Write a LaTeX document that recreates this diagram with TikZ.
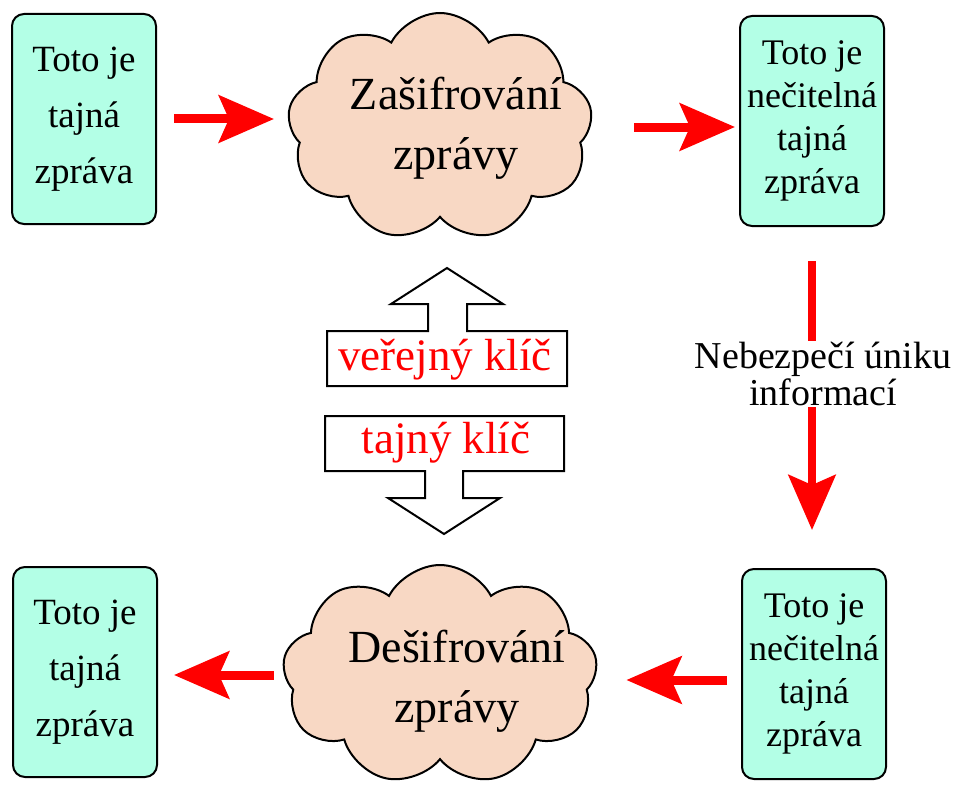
\documentclass[tikz,border=0pt]{standalone}
\usepackage{fontspec}
\setmainfont{Liberation Serif}
\usetikzlibrary{arrows.meta,shapes.symbols}
\definecolor{boxfill}{RGB}{179,255,230}
\definecolor{cloudfill}{RGB}{248,216,196}
\begin{document}
\begin{tikzpicture}[x=1pt,y=-1pt,
  msgbox/.style={draw=black,line width=2pt,fill=boxfill,rounded corners=12pt,
    minimum width=144pt,minimum height=210pt,align=center,inner sep=0pt},
  boxthree/.style={msgbox,font=\fontsize{37}{56}\selectfont},
  boxfour/.style={msgbox,font=\fontsize{36}{43}\selectfont},
  cloudsty/.style={cloud,cloud puffs=9,cloud puff arc=125,draw=black,line width=2pt,
    fill=cloudfill,inner sep=0pt},
  cloudtext/.style={align=center,font=\fontsize{46}{60}\selectfont},
  redarrow/.style={draw=red,line width=9pt,-{Stealth[length=55pt,width=47pt,inset=10pt]}},
  hollow/.style={draw=black,line width=2pt,fill=white,line join=miter},
  keytext/.style={text=red,font=\fontsize{45}{50}\selectfont,inner sep=0pt}]
\useasboundingbox[fill=white] (0,0) rectangle (963,789);

% message boxes
\node[boxthree] (tl) at (84,119) {Toto je\\tajná\\zpráva};
\node[boxfour]  (tr) at (812,121) {Toto je\\nečitelná\\tajná\\zpráva};
\node[boxthree] (bl) at (85,672) {Toto je\\tajná\\zpráva};
\node[boxfour]  (br) at (814,674) {Toto je\\nečitelná\\tajná\\zpráva};

% clouds
\node[cloudsty,minimum width=305pt,minimum height=228pt] (c1) at (440,127) {};
\node[cloudtext] (c1t) at (456,128) {Zašifrování\\zprávy};
\node[cloudsty,minimum width=315pt,minimum height=220pt] (c2) at (440,675) {};
\node[cloudtext] (c2t) at (457,681) {Dešifrování\\zprávy};

% red arrows
\draw[redarrow,shorten <=17pt,shorten >=15pt] (tl.east) -- (tl.east -| c1.west);
\draw[redarrow,shorten <=43pt,shorten >=4pt] (c1.east) -- (c1.east -| tr.west);
\draw[redarrow,line width=8pt,shorten <=34pt,shorten >=38pt] (tr.south) -- (tr.south |- br.north);
\path ([yshift=-6pt]br.west) coordinate (brw);
\draw[redarrow,shorten <=14pt,shorten >=30pt] (brw) -- (brw -| c2.east);
\draw[redarrow,shorten <=10pt,shorten >=16pt] (c2.west) -- (c2.west -| bl.east);

\node[fill=white,inner sep=1pt,align=center,font=\fontsize{38}{37}\selectfont] (leak)
  at (823,374) {Nebezpečí úniku\\informací};

% hollow key arrows
\draw[hollow] (327,386) -- (327,331) -- (428,331) -- (428,304) -- (391,304) -- (447,268)
  -- (503,304) -- (467,304) -- (467,331) -- (567,331) -- (567,386) -- cycle;
\node[keytext] (pub) at (445,360) {veřejný klíč};
\draw[hollow] (325,416) -- (564,416) -- (564,471) -- (463,471) -- (463,498) -- (500,498)
  -- (444,534) -- (388,498) -- (425,498) -- (425,471) -- (325,471) -- cycle;
\node[keytext] (sec) at (446,443) {tajný klíč};
\end{tikzpicture}
\end{document}
